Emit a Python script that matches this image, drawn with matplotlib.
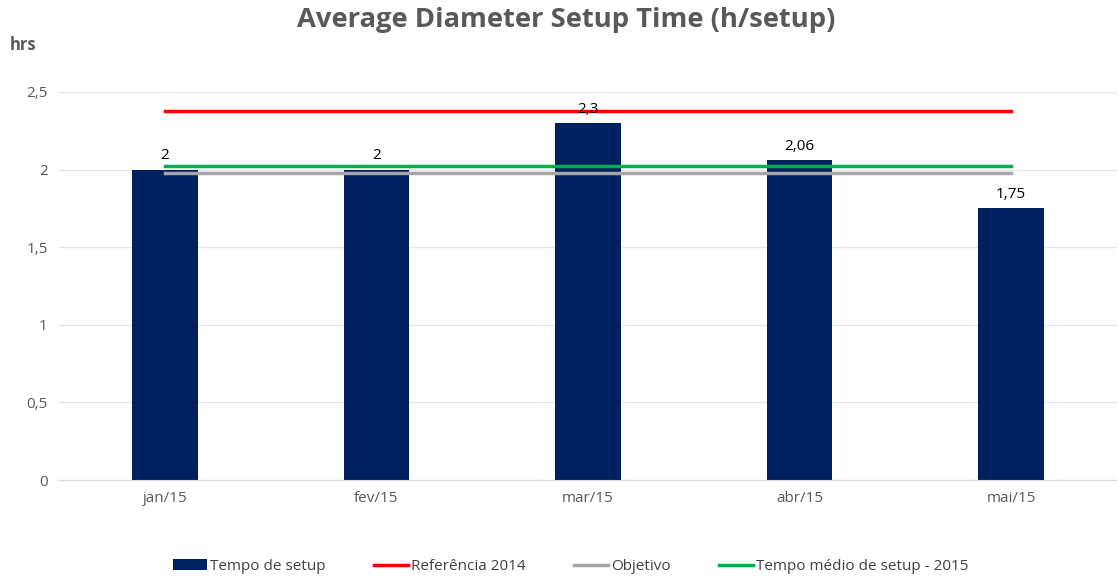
import numpy as np
import matplotlib.pyplot as plt
from matplotlib.ticker import FuncFormatter

months = ["jan/15", "fev/15", "mar/15", "abr/15", "mai/15"]
setup_time = [2.0, 2.0, 2.3, 2.06, 1.75]
bar_labels = ["2", "2", "2,3", "2,06", "1,75"]
ref_2014 = [2.38] * 5
objetivo = [1.98] * 5
media_2015 = [2.02] * 5

navy = "#002060"
gray_txt = "#595959"

plt.rcParams["font.family"] = ["Open Sans", "DejaVu Sans"]

fig = plt.figure(figsize=(11.17, 5.78), dpi=100)
ax = fig.add_axes([59 / 1117, 98 / 578, 1058 / 1117, 388 / 578])

x = np.arange(len(months))
bars = ax.bar(x, setup_time, width=0.31, color=navy, label="Tempo de setup", zorder=2)
l1, = ax.plot(x, ref_2014, color="#ff0000", lw=2.5, label="Referência 2014", zorder=3)
l2, = ax.plot(x, objetivo, color="#a6a6a6", lw=2.5, label="Objetivo", zorder=3)
l3, = ax.plot(x, media_2015, color="#00b050", lw=2.5, label="Tempo médio de setup - 2015", zorder=3)

for xi, v, lab in zip(x, setup_time, bar_labels):
    ax.text(xi, v + 0.04, lab, ha="center", va="bottom", fontsize=11, color="black", zorder=4)

ax.set_xlim(-0.5, 4.5)
ax.set_ylim(0, 2.5)
ax.set_yticks([0, 0.5, 1, 1.5, 2, 2.5])
ax.yaxis.set_major_formatter(FuncFormatter(lambda v, p: f"{v:g}".replace(".", ",")))
ax.set_xticks(x)
ax.set_xticklabels(months)
ax.tick_params(axis="both", length=0, labelsize=11, labelcolor=gray_txt, pad=8)

ax.grid(axis="y", color="#e6e6e6", lw=1, zorder=0)
for s in ["top", "right", "left"]:
    ax.spines[s].set_visible(False)
ax.spines["bottom"].set_color("#d9d9d9")

fig.text(0.507, 0.965, "Average Diameter Setup Time (h/setup)", ha="center", va="center",
         fontsize=19.7, fontweight="bold", color=gray_txt)
fig.text(0.009, 0.922, "hrs", ha="left", va="center", fontsize=12,
         fontweight="bold", color=gray_txt)

fig.legend(handles=[bars, l1, l2, l3], loc="center", bbox_to_anchor=(0.511, 0.02), ncol=4,
           frameon=False, fontsize=11, handlelength=2.2, handletextpad=0.2,
           columnspacing=3.2, labelcolor="#404040")

fig.savefig("out.png", dpi=100)
